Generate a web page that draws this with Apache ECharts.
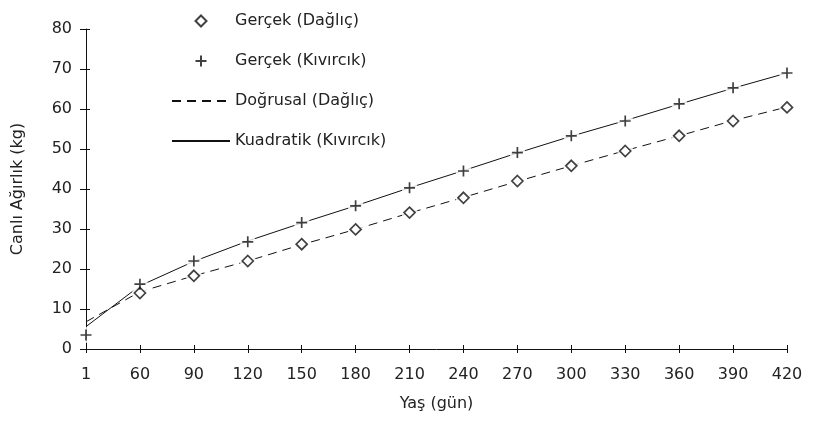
<!DOCTYPE html>
<html>
<head>
<meta charset="utf-8">
<script src="https://cdn.jsdelivr.net/npm/echarts@6/dist/echarts.min.js"></script>
<style>html,body{margin:0;padding:0;background:#fff}#c{width:813px;height:423px}</style>
</head>
<body>
<div id="c"></div>
<script>
var categories = ['1','60','90','120','150','180','210','240','270','300','330','360','390','420'];
var gercekDaglic = [null, 14, 18.3, 22, 26.2, 29.9, 34.1, 37.8, 42, 45.8, 49.5, 53.3, 57, 60.4];
var gercekKivircik = [3.5, 16.2, 22, 26.8, 31.6, 35.8, 40.3, 44.5, 49.1, 53.3, 57, 61.3, 65.3, 69];
var dogrusalDaglic = [6.8, 14.3, 18.3, 22, 26.1, 29.9, 34, 37.9, 41.9, 45.8, 49.6, 53.3, 57.1, 60.5];
var kuadratikKivircik = [5.6, 15.8, 21.9, 27, 31.5, 35.8, 40.3, 44.6, 49, 53.2, 57.1, 61.2, 65.2, 69];
var yTicks = [0, 10, 20, 30, 40, 50, 60, 70, 80];

var FONT = 'DejaVu Sans';
var TXT = '#222';
var INK = '#111';
var diamondPath = 'path://M5,0L10,5L5,10L0,5Z';
var plusPath = 'path://M5,0L5,10M0,5L10,5';

var chart = echarts.init(document.getElementById('c'), null, {renderer: 'canvas'});
chart.setOption({
  animation: false,
  backgroundColor: '#fff',
  textStyle: {fontFamily: FONT, color: TXT},
  grid: {left: 86, right: 26, top: 29, bottom: 74},
  legend: {
    orient: 'vertical',
    left: 166, top: 8,
    itemWidth: 58, itemHeight: 11, itemGap: 24,
    textStyle: {fontFamily: FONT, fontSize: 16, color: TXT},
    data: [
      'Gerçek (Dağlıç)',
      'Gerçek (Kıvırcık)',
      {name: 'Doğrusal (Dağlıç)', itemStyle: {opacity: 0}},
      {name: 'Kuadratik (Kıvırcık)', itemStyle: {opacity: 0}}
    ]
  },
  xAxis: [{
    type: 'category', data: categories, boundaryGap: false,
    name: 'Yaş (gün)', nameLocation: 'middle', nameGap: 47,
    nameTextStyle: {fontFamily: FONT, fontSize: 16, color: TXT},
    axisLine: {lineStyle: {color: INK, width: 1}},
    axisTick: {show: true, length: 4, alignWithLabel: true, lineStyle: {color: INK}},
    axisLabel: {fontFamily: FONT, fontSize: 16, color: TXT, margin: 18, interval: 0},
    splitLine: {show: false}
  }, {
    type: 'category', data: categories, boundaryGap: false, position: 'bottom',
    axisLine: {show: false},
    axisTick: {show: true, inside: true, length: 4, lineStyle: {color: INK}},
    axisLabel: {show: false}, splitLine: {show: false}
  }],
  yAxis: [{
    type: 'value', min: 0, max: 80, interval: 10,
    name: 'Canlı Ağırlık (kg)', nameLocation: 'middle', nameGap: 60, nameRotate: 90,
    nameTextStyle: {fontFamily: FONT, fontSize: 16, color: TXT},
    axisLine: {show: true, lineStyle: {color: INK, width: 1}},
    axisTick: {show: true, length: 6, lineStyle: {color: INK}},
    axisLabel: {fontFamily: FONT, fontSize: 16, color: TXT, margin: 14,
      formatter: function (v) { return yTicks.indexOf(v) >= 0 ? String(v) : ''; }},
    splitLine: {show: false}
  }, {
    type: 'value', min: 0, max: 80, interval: 10, position: 'left',
    axisLine: {show: false},
    axisTick: {show: true, inside: true, length: 4, lineStyle: {color: INK}},
    axisLabel: {show: false}, splitLine: {show: false}
  }],
  series: [
    {
      name: 'Doğrusal (Dağlıç)', type: 'line', data: dogrusalDaglic, z: 2,
      symbol: 'none', lineStyle: {color: INK, width: 1, type: [9, 6]},
      itemStyle: {color: INK}
    },
    {
      name: 'Kuadratik (Kıvırcık)', type: 'line', data: kuadratikKivircik, z: 2,
      symbol: 'none', lineStyle: {color: INK, width: 1, type: 'solid'},
      itemStyle: {color: INK}
    },
    {
      name: 'maskD', type: 'scatter', data: gercekDaglic, z: 3, silent: true,
      symbol: 'circle', symbolSize: 16, itemStyle: {color: '#fff', borderWidth: 0}
    },
    {
      name: 'maskK', type: 'scatter', data: gercekKivircik, z: 3, silent: true,
      symbol: 'circle', symbolSize: 16, itemStyle: {color: '#fff', borderWidth: 0}
    },
    {
      name: 'Gerçek (Dağlıç)', type: 'scatter', data: gercekDaglic, z: 4,
      symbol: diamondPath, symbolSize: 11, symbolKeepAspect: true,
      itemStyle: {color: '#fff', borderColor: INK, borderWidth: 1.7}
    },
    {
      name: 'Gerçek (Kıvırcık)', type: 'scatter', data: gercekKivircik, z: 4,
      symbol: plusPath, symbolSize: 11, symbolKeepAspect: true,
      itemStyle: {color: 'none', borderColor: INK, borderWidth: 1.7}
    }
  ]
});
</script>
</body>
</html>
